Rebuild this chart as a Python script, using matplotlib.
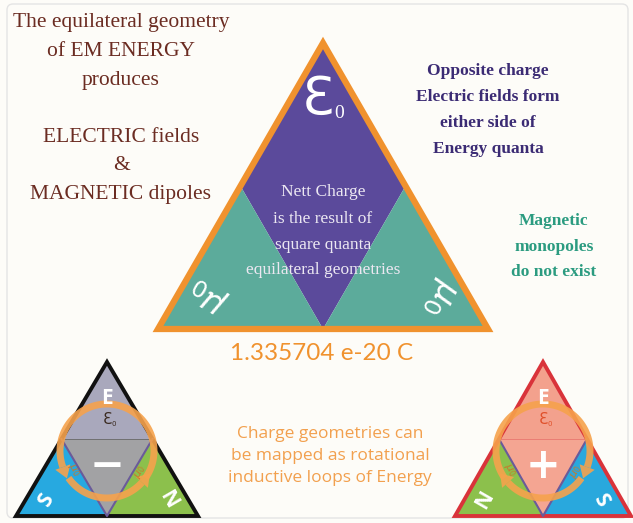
import numpy as np
import matplotlib.pyplot as plt
from matplotlib.patches import Polygon, FancyBboxPatch

# ---- content -------------------------------------------------------------
left_lines = ["The equilateral geometry", "of EM ENERGY", "produces", "",
              "ELECTRIC fields", "&", "MAGNETIC dipoles"]
left_y = [22, 52, 80, 109, 138, 166, 195]

right_lines = ["Opposite charge", "Electric fields form", "either side of", "Energy quanta"]
right_y = [71, 97, 123, 149]

mono_lines = ["Magnetic", "monopoles", "do not exist"]
mono_y = [221, 247, 272]

inner_lines = ["Nett Charge", "is the result of", "square quanta", "equilateral geometries"]
inner_y = [192, 219, 245, 270]

charge_value = "1.335704 e-20 C"
bottom_lines = ["Charge geometries can", "be mapped as rotational", "inductive loops of Energy"]
bottom_y = [434, 456, 478]

# main triangle: apex and base
main_apex = (323, 43)
main_base = (158, 488, 329)     # x left, x right, y

# small triangles: apex x, apex y, base y, half width
small_tri = [(107, 362, 516, 91), (543, 362, 516, 88)]
small_sign = ["\u2212", "+"]
small_corner_labels = [("S", "N"), ("N", "S")]

C_ORANGE = "#f0922e"
C_PURPLE = "#5b4a9b"
C_TEAL = "#5cab9b"


def tri_parts(apex, xl, xr, yb):
    ax_, ay_ = apex
    lm = ((ax_ + xl) / 2, (ay_ + yb) / 2)
    rm = ((ax_ + xr) / 2, (ay_ + yb) / 2)
    bm = ((xl + xr) / 2, yb)
    return {
        "top": [apex, lm, rm],
        "diamond": [lm, rm, bm],
        "left": [(xl, yb), lm, bm],
        "right": [(xr, yb), rm, bm],
        "outline": [apex, (xl, yb), (xr, yb)],
        "lm": lm, "rm": rm, "bm": bm,
    }


def ring(ax, cx, cy, r, color, mirror=False):
    # two arcs with arrow heads, drawn in screen-angle terms (y axis is down)
    segs = [(-35, 200), (215, 318)]
    for a0, a1 in segs:
        th = np.radians(np.linspace(a0, a1, 80))
        sx = -1 if mirror else 1
        xs = cx + sx * r * np.cos(th)
        ys = cy - r * np.sin(th)
        ax.plot(xs, ys, color=color, lw=5, solid_capstyle="butt", alpha=0.9)
        t = th[-1]
        tx, ty = -np.sin(t) * sx, -np.cos(t)
        px, py = xs[-1], ys[-1]
        nx, ny = -ty, tx
        head = [(px + tx * 12, py + ty * 12),
                (px + nx * 8, py + ny * 8),
                (px - nx * 8, py - ny * 8)]
        ax.add_patch(Polygon(head, closed=True, color=color, alpha=0.9, lw=0))


fig = plt.figure(figsize=(6.33, 5.23), dpi=100)
fig.patch.set_facecolor("#fdfcf8")
ax = fig.add_axes([0, 0, 1, 1])
ax.set_xlim(0, 633)
ax.set_ylim(523, 0)
ax.axis("off")

ax.add_patch(FancyBboxPatch((7, 4), 621, 514, boxstyle="round,pad=0,rounding_size=6",
                            fc="none", ec="#e4e4e4", lw=1))

# ---- main triangle -------------------------------------------------------
p = tri_parts(main_apex, main_base[0], main_base[1], main_base[2])
ax.add_patch(Polygon(p["top"], color=C_PURPLE, lw=0))
ax.add_patch(Polygon(p["diamond"], color=C_PURPLE, lw=0))
ax.add_patch(Polygon(p["left"], color=C_TEAL, lw=0))
ax.add_patch(Polygon(p["right"], color=C_TEAL, lw=0))
ax.add_patch(Polygon(p["outline"], fc="none", ec=C_ORANGE, lw=4.5, joinstyle="miter"))

ax.text(318, 100, "\u0190", color="white", fontsize=38, ha="center", va="center",
        family="DejaVu Sans")
ax.text(339, 113, "0", color="white", fontsize=14, ha="center", va="center",
        family="Liberation Serif")
ax.text(208, 296, r"$\mu_0$", color="white", fontsize=24, ha="center", va="center",
        rotation=150)
ax.text(440, 298, r"$\mu_0$", color="white", fontsize=24, ha="center", va="center",
        rotation=-115)

for s, y in zip(inner_lines, inner_y):
    ax.text(323, y, s, color="#ece8f2", fontsize=12.5, ha="center", va="center",
            family="Liberation Serif")

# ---- small triangles ------------------------------------------------------
fills = [
    {"top": "#a9a8bc", "diamond": "#a2a2a4", "left": "#27a9e0", "right": "#8cc04c",
     "edge": "#111111", "eps": "#3a2a20"},
    {"top": "#f3a18d", "diamond": "#f4a592", "left": "#8cc04c", "right": "#29a8dd",
     "edge": "#d9333a", "eps": "#e0502a"},
]
for i, (cx, ay, yb, hw) in enumerate(small_tri):
    q = tri_parts((cx, ay), cx - hw, cx + hw, yb)
    f = fills[i]
    for k in ["top", "diamond", "left", "right"]:
        ax.add_patch(Polygon(q[k], color=f[k], lw=0))
    ax.plot([q["lm"][0], q["bm"][0], q["rm"][0]], [q["lm"][1], q["bm"][1], q["rm"][1]],
            color="#6a5a9a", lw=1.5)
    ax.plot([q["lm"][0], q["rm"][0]], [q["lm"][1], q["rm"][1]],
            color=f["edge"], lw=0.6, alpha=0.4)
    ax.add_patch(Polygon(q["outline"], fc="none", ec=f["edge"], lw=2.8))

    ax.text(cx, 398, "E", color="white", fontsize=15, fontweight="bold",
            ha="center", va="center", family="Open Sans")
    ring(ax, cx, 451, 47, "#f6a24c", mirror=(i == 1))
    ax.text(cx, 420, "\u0190", color=f["eps"], fontsize=11, ha="center", va="center")
    ax.text(cx + 7, 424, "0", color=f["eps"], fontsize=5, ha="center", va="center")
    ax.text(cx, 466, small_sign[i], color="white", fontsize=30, fontweight="bold",
            ha="center", va="center", family="DejaVu Sans")
    ls, rs = small_corner_labels[i]
    ax.text(cx - hw + 30, 500, ls, color="white", fontsize=15, fontweight="bold",
            ha="center", va="center", rotation=60, family="Open Sans")
    ax.text(cx + hw - 30, 500, rs, color="white", fontsize=15, fontweight="bold",
            ha="center", va="center", rotation=-60, family="Open Sans")
    ax.text(cx - 33, 470, r"$\mu_0$", color="#c8782a", fontsize=8,
            ha="center", va="center", rotation=-60)
    ax.text(cx + 33, 472, r"$\mu_0$", color="#c8782a", fontsize=8,
            ha="center", va="center", rotation=60)

# ---- text blocks ----------------------------------------------------------
for s, y in zip(left_lines, left_y):
    ax.text(121, y, s, color="#6b2c22", fontsize=15.5, ha="center", va="center",
            family="Liberation Serif")
for s, y in zip(right_lines, right_y):
    ax.text(488, y, s, color="#3b2b74", fontsize=12.5, fontweight="bold",
            ha="center", va="center", family="Liberation Serif")
for s, y in zip(mono_lines, mono_y):
    ax.text(554, y, s, color="#2b9b80", fontsize=12.5, fontweight="bold",
            ha="center", va="center", family="Liberation Serif")

ax.text(322, 353, charge_value, color=C_ORANGE, fontsize=17.5, ha="center", va="center",
        family="Lato")
for s, y in zip(bottom_lines, bottom_y):
    ax.text(330, y, s, color="#f2a04e", fontsize=12.5, ha="center", va="center",
            family="Open Sans")

fig.savefig("out.png", dpi=100, facecolor=fig.get_facecolor())
